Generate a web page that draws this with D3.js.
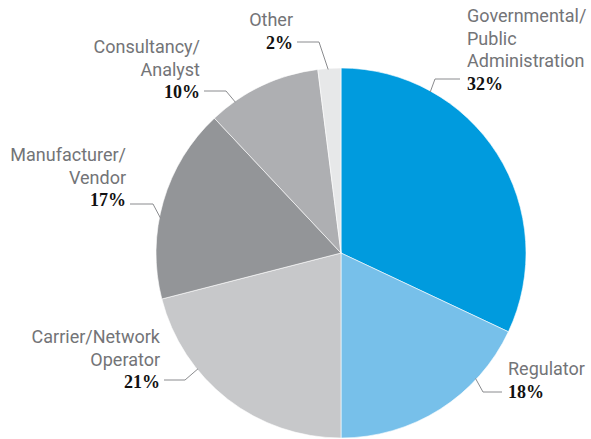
<!DOCTYPE html>
<html>
<head>
<meta charset="utf-8">
<script src="https://cdn.jsdelivr.net/npm/d3@7"></script>
<style>
  html, body { margin: 0; padding: 0; background: #fff; }
  svg { display: block; }
</style>
</head>
<body>
<div id="chart"></div>
<script>
// data, clockwise from 12 o'clock
var categories = ["Governmental/Public Administration", "Regulator", "Carrier/Network Operator",
                  "Manufacturer/Vendor", "Consultancy/Analyst", "Other"];
var labelLines = [["Governmental/", "Public", "Administration"], ["Regulator"], ["Carrier/Network", "Operator"],
                  ["Manufacturer/", "Vendor"], ["Consultancy/", "Analyst"], ["Other"]];
var shares = [32, 18, 21, 17, 10, 2];
var colors = ["#009bde", "#77c0ea", "#c7c8ca", "#939598", "#aeafb2", "#e7e8e9"];

// leader/label layout (angle where the leader meets the pie, knee, end of the horizontal, text spot)
var labelLayout = [
  {angle: 29,  knee: [435, 79],  end: 460, tx: 467, ty: 22,  anchor: "start"},
  {angle: 133, knee: [483, 392], end: 502, tx: 508, ty: 375, anchor: "start"},
  {angle: 231, knee: [185, 380], end: 164, tx: 160, ty: 343, anchor: "end"},
  {angle: 281, knee: [153, 204], end: 130, tx: 126, ty: 161, anchor: "end"},
  {angle: 325, knee: [226, 91],  end: 204, tx: 200, ty: 53,  anchor: "end"},
  {angle: 356, knee: [319, 42],  end: 297, tx: 293, ty: 26,  anchor: "end"}
];

var width = 591, height = 439;
var cx = 341, cy = 253, radius = 185;
var lineHeight = 22.5;

var table = categories.map(function (c, i) {
  return {category: c, value: shares[i], color: colors[i], lines: labelLines[i], layout: labelLayout[i]};
});

var svg = d3.select("#chart").append("svg")
    .attr("width", width)
    .attr("height", height);

var pie = d3.pie()
    .sort(null)
    .value(function (d) { return d.value; });

var arc = d3.arc()
    .innerRadius(0)
    .outerRadius(radius);

var g = svg.append("g")
    .attr("transform", "translate(" + cx + "," + cy + ")");

g.selectAll("path.slice")
    .data(pie(table))
  .enter().append("path")
    .attr("class", "slice")
    .attr("d", arc)
    .attr("fill", function (d) { return d.data.color; })
    .attr("stroke", "#fff")
    .attr("stroke-width", 0.6);

// leaders
var leaders = svg.append("g").attr("class", "leaders");
table.forEach(function (d) {
  var a = d.layout.angle * Math.PI / 180;
  var x0 = cx + (radius - 1) * Math.sin(a),
      y0 = cy - (radius - 1) * Math.cos(a);
  leaders.append("polyline")
      .attr("points", [[x0, y0], d.layout.knee, [d.layout.end, d.layout.knee[1]]].map(function (p) { return p.join(","); }).join(" "))
      .attr("fill", "none")
      .attr("stroke", "#8a8b8e")
      .attr("stroke-width", 1);
});

// labels
var labels = svg.append("g").attr("class", "labels");
table.forEach(function (d) {
  var t = labels.append("text")
      .attr("text-anchor", d.layout.anchor);
  d.lines.forEach(function (line, i) {
    t.append("tspan")
        .attr("x", d.layout.tx)
        .attr("y", d.layout.ty + i * lineHeight)
        .attr("font-family", "Roboto, 'Liberation Sans', sans-serif")
        .attr("font-size", 18)
        .attr("fill", "#737477")
        .text(line);
  });
  t.append("tspan")
      .attr("x", d.layout.tx)
      .attr("y", d.layout.ty + d.lines.length * lineHeight)
      .attr("font-family", "'Liberation Serif', 'DejaVu Serif', serif")
      .attr("font-weight", "bold")
      .attr("font-size", 18)
      .attr("fill", "#111")
      .text(d.value + "%");
});
</script>
</body>
</html>
